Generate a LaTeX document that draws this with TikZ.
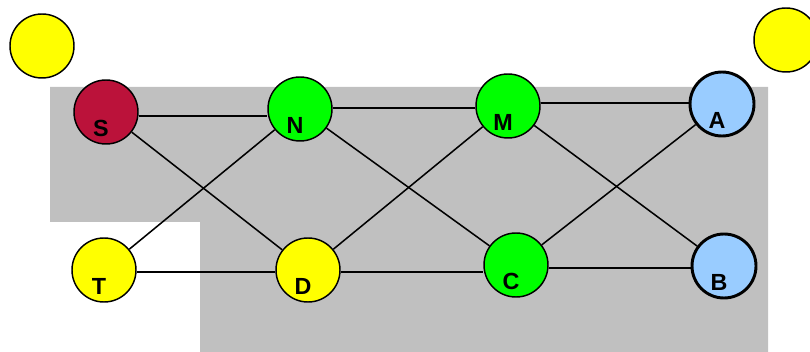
\documentclass[tikz,border=0pt]{standalone}
\usepackage{fontspec}
\setmainfont{Liberation Sans}
\begin{document}
\begin{tikzpicture}[x=0.75pt,y=-0.75pt,
  vertex/.style={circle,draw=black,line width=1.1pt,minimum size=48pt,inner sep=0pt},
  heavy/.style={vertex,line width=2.2pt},
  tag/.style={label={[xshift=-3.75pt,yshift=-12pt,font=\fontsize{17.5}{18}\selectfont\bfseries]center:#1}},
  link/.style={draw=black,line width=1.15pt}]
\definecolor{crimson}{RGB}{187,18,58}
\definecolor{lime}{RGB}{0,255,0}
\definecolor{sun}{RGB}{255,255,0}
\definecolor{sky}{RGB}{153,204,255}
\definecolor{panel}{RGB}{192,192,192}
\useasboundingbox (0,0) rectangle (810,352);
% stepped grey backdrop
\fill[panel] (50,87) -- (768,87) -- (768,352) -- (200,352) -- (200,222) -- (50,222) -- cycle;
% loose yellow discs in the corners
\node[vertex,fill=sun] (y1) at (42,46) {};
\node[vertex,fill=sun] (y2) at (786,40) {};
% network nodes
\node[vertex,fill=crimson,tag=S] (S) at (106,112) {};
\node[vertex,fill=lime,tag=N] (N) at (300,109) {};
\node[vertex,fill=lime,tag=M] (M) at (508,106) {};
\node[heavy,fill=sky,tag=A] (A) at (722,104) {};
\node[vertex,fill=sun,tag=T] (T) at (104,270) {};
\node[vertex,fill=sun,tag=D] (D) at (308,270) {};
\node[vertex,fill=lime,tag=C] (C) at (516,265) {};
\node[heavy,fill=sky,tag=B] (B) at (724,266) {};
% level connections
\path[link] ([yshift=-3pt]S.east) -- ([yshift=-5.25pt]N.west);
\path[link] ([yshift=0.75pt]N.east) -- ([yshift=-1.5pt]M.west);
\path[link] ([yshift=2.25pt]M.east) -- ([yshift=0.75pt]A.west);
\path[link] ([yshift=-1.5pt]T.east) -- ([yshift=-1.5pt]D.west);
\path[link] ([yshift=-1.5pt]D.east) -- ([yshift=-5.25pt]C.west);
\path[link] ([yshift=-2.25pt]C.east) -- ([yshift=-1.5pt]B.west);
% crossing connections
\path[link] (S) -- (D);
\path[link] (T) -- (N);
\path[link] (N) -- (C);
\path[link] (D) -- (M);
\path[link] (M) -- (B);
\path[link] (C) -- (A);
\end{tikzpicture}
\end{document}
